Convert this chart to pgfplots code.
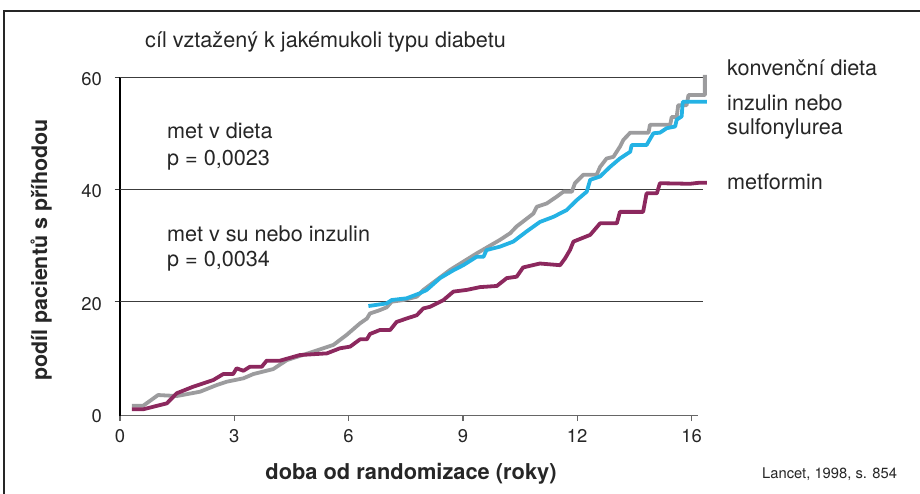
\documentclass[border=0pt]{standalone}
\usepackage{fontspec}
\setmainfont{TeX Gyre Heros}
\usepackage{pgfplots}
\pgfplotsset{compat=1.18}
\definecolor{cgray}{RGB}{156,156,158}
\definecolor{cblue}{RGB}{36,178,228}
\definecolor{cmaroon}{RGB}{140,40,94}
\definecolor{cgrid}{RGB}{60,60,60}
\begin{document}
\begin{tikzpicture}[x=1bp,y=1bp]
\useasboundingbox (0,0) rectangle (920,494);
\draw[line width=1.2bp, black!85] (4,-2) -- (4,483) -- (922,483);
\begin{axis}[
  at={(120bp,78.3bp)}, anchor=south west,
  scale only axis, width=578bp, height=338.6bp,
  xmin=0, xmax=15.17, ymin=-0.3, ymax=60,
  axis x line=bottom, axis y line=left,
  x axis line style={-, line width=1.5bp, color=black!60},
  y axis line style={-, line width=1.2bp, color=black},
  xtick={0,3,6,9,12,15}, xticklabels={0,3,6,9,12,16},
  ytick={20,40,60},
  extra y ticks={0}, extra y tick style={tick style={draw=none}},
  tick align=outside,
  major tick length=5.5bp,
  x tick style={line width=1.2bp, black!60},
  y tick style={line width=1bp, cgrid},
  /pgf/number format/assume math mode=true,
  ticklabel style={font=\fontsize{18.5}{20}\selectfont, text=black!85},
  xticklabel style={anchor=north, inner sep=0pt, yshift=-8.3bp},
  yticklabel style={anchor=east, inner sep=0pt, xshift=-12.5bp, yshift=-2bp},
  clip=false,
  line join=round,
]
\draw[line width=1bp, cgrid] (axis cs:0,20) -- (axis cs:15.3,20);
\draw[line width=1bp, cgrid] (axis cs:0,40) -- (axis cs:15.3,40);
\draw[line width=1bp, cgrid] (axis cs:0,60) -- (axis cs:15.3,60);
% konvencni dieta
\addplot[cgray, line width=3.8bp] coordinates {
(0.31,1.48) (0.61,1.48) (1.0,3.38) (1.49,3.2) (2.1,3.97) (2.54,5.16) (2.8,5.75)
(3.24,6.36) (3.5,7.12) (4.02,8.0) (4.38,9.6) (5.07,11.1) (5.6,12.3) (5.95,14.1)
(6.3,16.15) (6.48,17.0) (6.56,17.9) (6.82,18.5) (7.0,19.0) (7.13,20.0) (7.44,20.3)
(7.79,20.9) (7.96,22.08) (8.66,25.65) (9.36,28.6) (9.97,31.0) (10.24,32.2)
(10.41,33.4) (10.85,35.7) (10.94,36.9) (11.2,37.5) (11.46,38.7) (11.64,39.6)
(11.86,39.6) (11.94,41.1) (12.16,42.6) (12.51,42.6) (12.6,44.0) (12.77,45.5)
(12.95,45.8) (13.12,47.6) (13.21,48.8) (13.39,50.1) (13.87,50.1) (13.91,51.5)
(14.44,51.5) (14.48,52.9) (14.61,52.9) (14.65,55.0) (14.87,55.0) (14.92,56.8)
(15.35,56.8) (15.35,60.4)
};
% inzulin nebo sulfonylurea
\addplot[cblue, line width=3.8bp] coordinates {
(6.52,19.23) (7.0,19.7) (7.13,20.3) (7.52,20.6) (7.87,21.5) (8.05,22.1) (8.4,24.2)
(8.75,25.6) (9.01,26.5) (9.36,28.0) (9.54,28.0) (9.62,29.2) (9.97,29.8) (10.32,30.7)
(10.67,32.5) (11.02,34.2) (11.37,35.1) (11.72,36.3) (11.99,38.1) (12.25,39.6)
(12.34,41.7) (12.6,42.3) (12.86,44.0) (13.12,45.5) (13.39,46.7) (13.43,47.9)
(13.82,47.9) (14.0,50.0) (14.17,50.1) (14.35,50.9) (14.57,51.2) (14.61,52.4)
(14.74,53.0) (14.77,55.6) (15.4,55.6)
};
% metformin
\addplot[cmaroon, line width=3.8bp] coordinates {
(0.31,0.84) (0.61,0.84) (1.23,1.9) (1.49,3.7) (1.92,4.86) (2.45,6.06) (2.71,7.12)
(2.97,7.12) (3.06,8.14) (3.24,7.7) (3.41,8.42) (3.72,8.42) (3.85,9.5) (4.2,9.5)
(4.72,10.5) (5.43,10.8) (5.77,11.7) (6.04,12.0) (6.3,13.3) (6.48,13.3) (6.56,14.25)
(6.82,14.96) (7.09,14.96) (7.26,16.4) (7.52,17.0) (7.79,17.6) (7.96,18.8) (8.14,19.1)
(8.49,20.3) (8.75,21.8) (9.1,22.1) (9.45,22.6) (9.89,22.8) (10.15,24.2) (10.41,24.45)
(10.58,26.1) (11.02,26.8) (11.55,26.5) (11.68,27.7) (11.81,29.2) (11.9,30.7)
(12.34,31.9) (12.6,33.96) (13.04,33.96) (13.12,36.0) (13.73,36.0) (13.82,39.3)
(14.09,39.3) (14.17,41.1) (14.96,41.0) (15.22,41.2) (15.4,41.2)
};
\end{axis}
\begin{scope}[every node/.style={inner sep=0pt, text=black!85, font=\fontsize{21.7}{26}\selectfont}]
\node[anchor=base west] at (145,446) {cíl vztažený k jakémukoli typu diabetu};
\node[anchor=base west] at (167,355) {met v dieta};
\node[anchor=base west] at (167,328) {p = 0,0023};
\node[anchor=base west] at (167,252.3) {met v su nebo inzulin};
\node[anchor=base west] at (167,227) {p = 0,0034};
\node[anchor=base west] at (727,418) {konvenční dieta};
\node[anchor=base west] at (727,383) {inzulin nebo};
\node[anchor=base west] at (727,359.5) {sulfonylurea};
\node[anchor=base west] at (727,304.7) {metformin};
\node[anchor=base west, font=\fontsize{14.8}{17}\selectfont] at (762,15) {Lancet, 1998, s. 854};
\node[anchor=base, font=\fontsize{21.9}{26}\selectfont\bfseries] at (411,14) {doba od randomizace (roky)};
\node[anchor=base, rotate=90, font=\fontsize{21.5}{26}\selectfont\bfseries] at (47,244) {podíl pacientů s příhodou};
\end{scope}
\end{tikzpicture}
\end{document}
